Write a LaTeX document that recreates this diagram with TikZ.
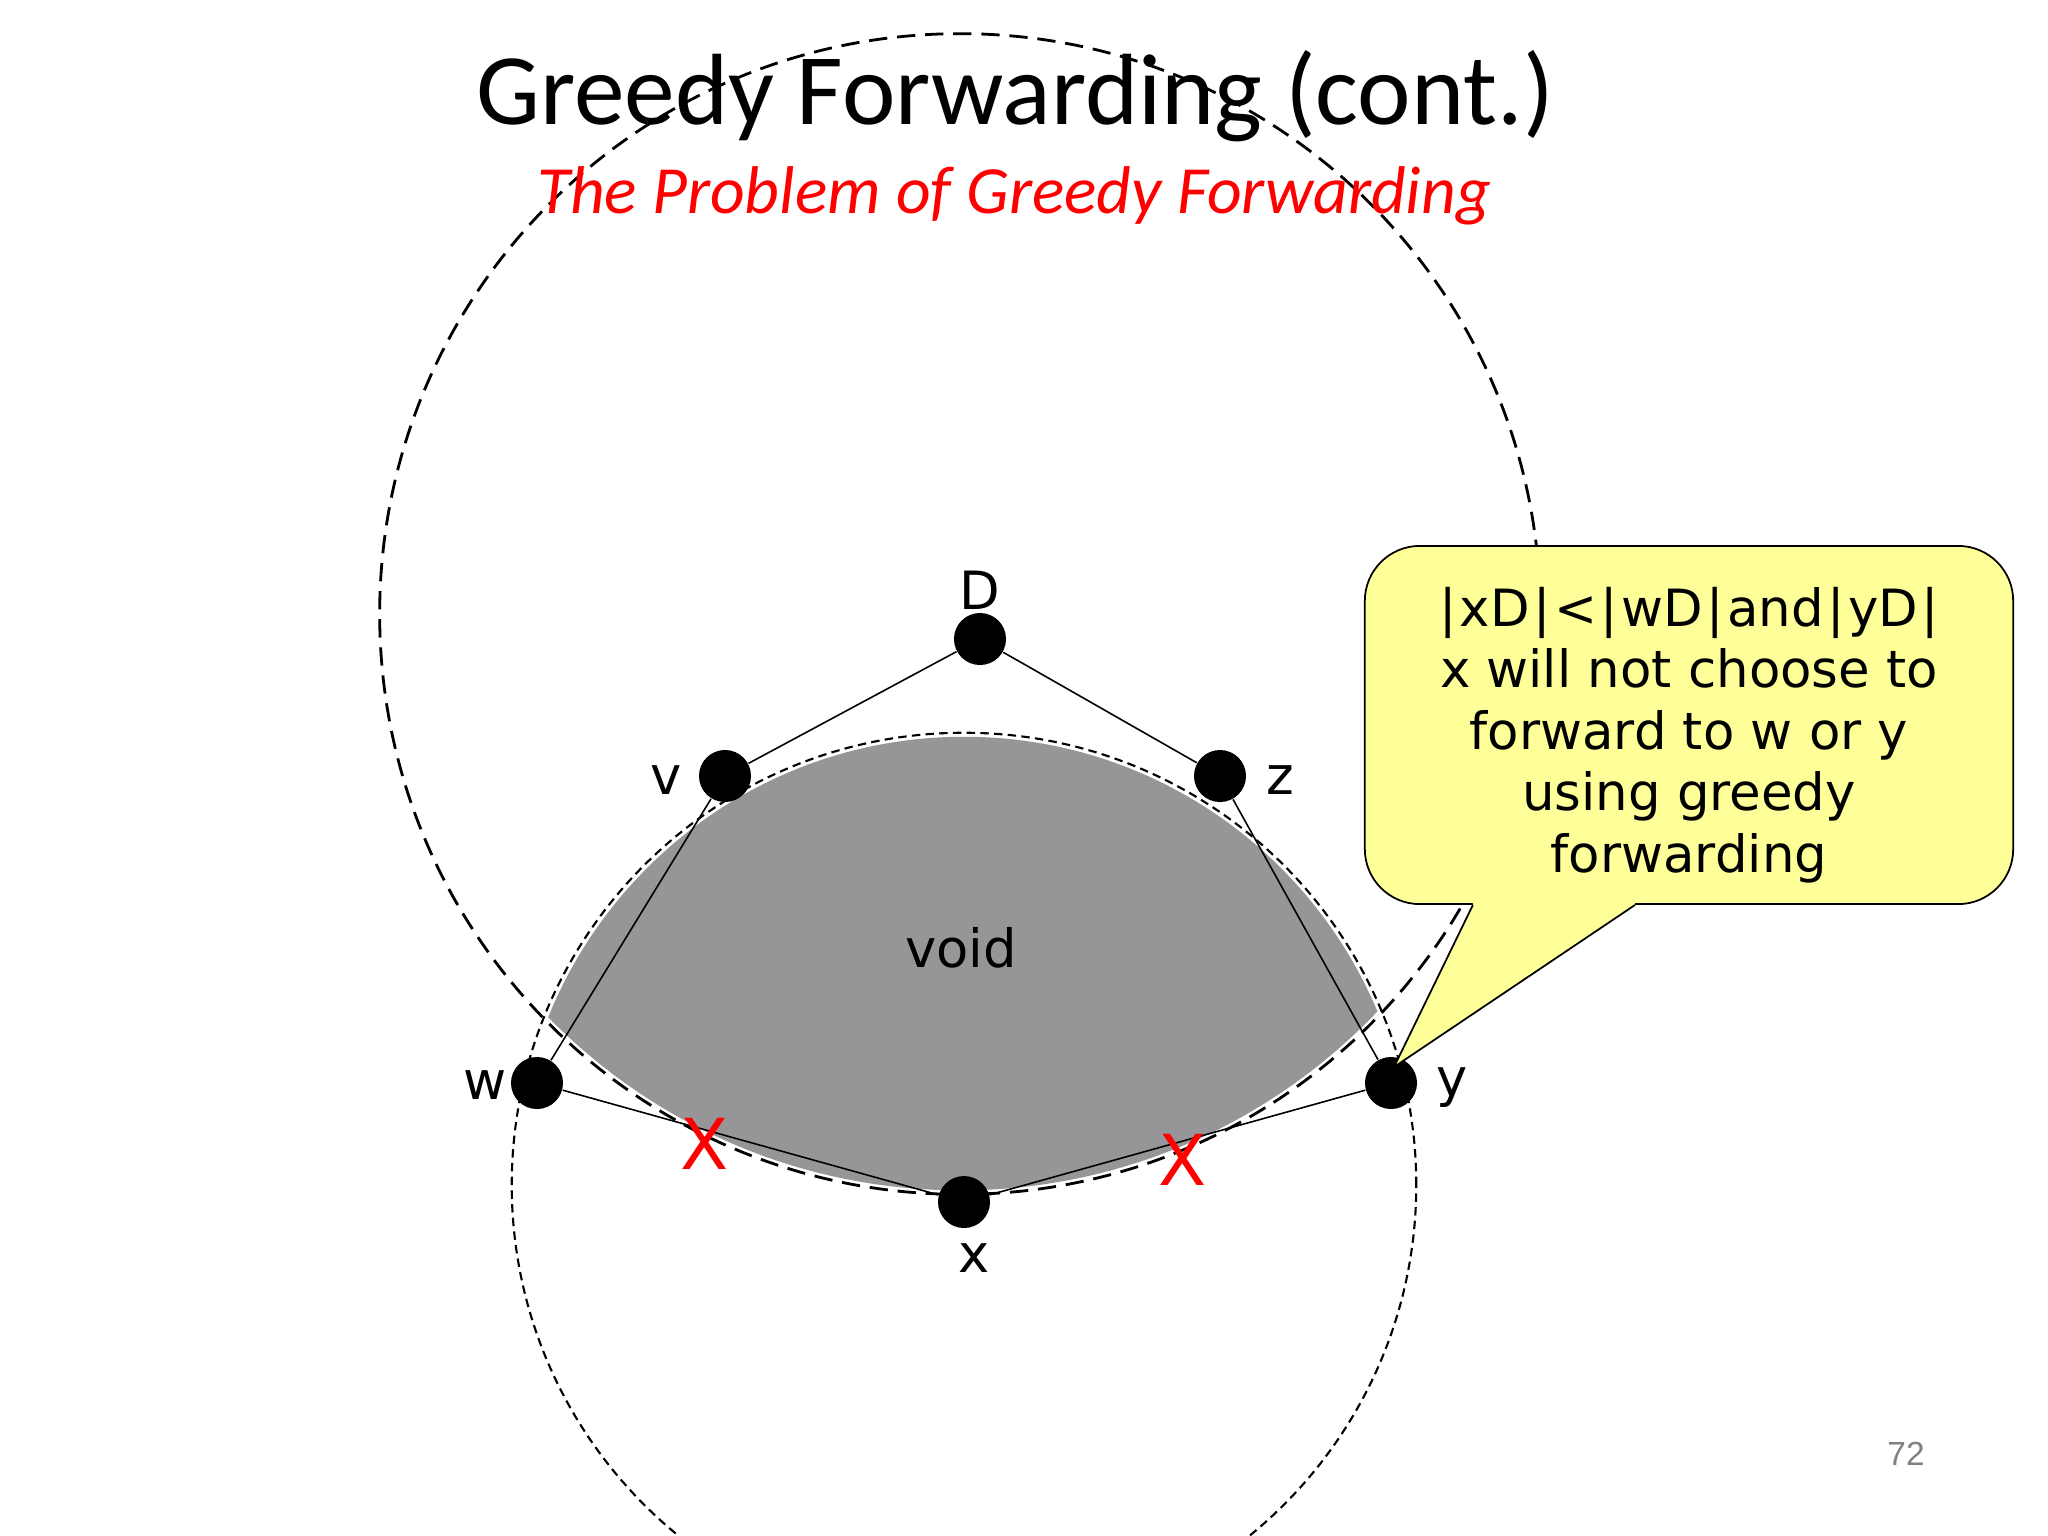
\documentclass[tikz,border=0pt]{standalone}
\usepackage{fontspec}
\setmainfont{DejaVu Sans}
\newfontfamily\titlefont{Carlito}
\newfontfamily\numfont{Liberation Sans}
\usepackage{tikz}
\definecolor{voidgray}{RGB}{150,149,152}
\definecolor{noteyellow}{RGB}{255,255,153}
\definecolor{pagegray}{RGB}{128,128,128}

\begin{document}
\begin{tikzpicture}[x=0.01cm, y=-0.01cm,
			vertex_style/.style={circle, fill=black, inner sep=0pt, minimum size=0.52cm},
			label_style/.style={inner sep=0pt, font=\fontsize{15}{18}\selectfont},
			cross_style/.style={inner sep=0pt, text=red, font=\fontsize{20}{22}\selectfont},
			edge_style/.style={black, line width=0.45pt},
			big_circle_style/.style={black, line width=0.8pt, dash pattern=on 5.2pt off 2.8pt},
			small_circle_style/.style={black, line width=0.6pt, dash pattern=on 2.4pt off 1.5pt},
			note_style/.style={draw=black, line width=0.5pt, fill=noteyellow, rounded corners=0.55cm,
				minimum width=6.48cm, minimum height=3.58cm},
			note_text_style/.style={inner sep=0pt, align=center, font=\fontsize{14.6}{17.5}\selectfont},
			note_edge_style/.style={black, line width=0.5pt, line join=miter}]
			
			\fill[white] (0,0) rectangle (2048,1536);
			\useasboundingbox (0,0) rectangle (2048,1536);
			
			\coordinate (bigc) at (960,614);
			\coordinate (smallc) at (964,1185);
			
			% the void
			\begin{scope}
				\clip (bigc) circle[radius=5.76cm];
				\fill[voidgray] (smallc) circle[radius=4.48cm];
			\end{scope}
			
			\draw[big_circle_style] (bigc) circle[radius=5.8cm];
			\draw[small_circle_style] (smallc) circle[radius=4.52cm];
			
			\foreach \x/\y/\n in {980/639/D,725/776/v,1220/776/z,537/1083/w,1391/1083/y,964/1202/x}{
				\node[vertex_style] (\n) at (\x,\y){};}
			
			\foreach \a/\b in {D/v,D/z,v/w,z/y,w/x,y/x}{
				\draw[edge_style] (\a) -- (\b);}
			
			\foreach \x/\y/\n in {980/590/D,666/780/v,1280/780/z,485/1085/w,1452/1088/y,974/1258/x}{
				\node[label_style] (lbl\n) at (\x,\y){\n};}
			\node[label_style] (void) at (961,948){void};
			
			\node[cross_style] (crossw) at (705,1144){X};
			\node[cross_style] (crossy) at (1183,1160){X};
			
			% callout
			\node[note_style] (note) at (1689,725){};
			\fill[noteyellow] ([xshift=-2.16cm]note.south) -- ([xshift=0.03cm,yshift=0.16cm]y.center)
				-- ([xshift=-0.54cm]note.south) -- ([xshift=-0.54cm,yshift=0.1cm]note.south)
				-- ([xshift=-2.16cm,yshift=0.1cm]note.south) -- cycle;
			\draw[note_edge_style] ([xshift=-2.16cm]note.south) -- ([xshift=0.03cm,yshift=0.16cm]y.center)
				-- ([xshift=-0.54cm]note.south);
			\node[note_text_style] (notetext) at (1689,735){|\kern1pt xD\kern1pt|\kern1pt<\kern1pt|\kern1pt wD\kern1pt|\kern1pt and\kern1pt|\kern1pt yD\kern1pt|\\x will not choose to\\forward to w or y\\using greedy\\forwarding};
			
			\node[anchor=base, inner sep=0pt, font=\titlefont\fontsize{28.8}{34}\selectfont] (title) at (1015,124){Greedy Forwarding (cont.)};
			\node[anchor=base, inner sep=0pt, text=red, font=\titlefont\itshape\fontsize{19.2}{23}\selectfont] (subtitle) at (1014,213){The Problem of Greedy Forwarding};
			\node[inner sep=0pt, text=pagegray, font=\numfont\fontsize{9.5}{11}\selectfont] (pagenum) at (1906,1454){72};
		\end{tikzpicture}
\end{document}
